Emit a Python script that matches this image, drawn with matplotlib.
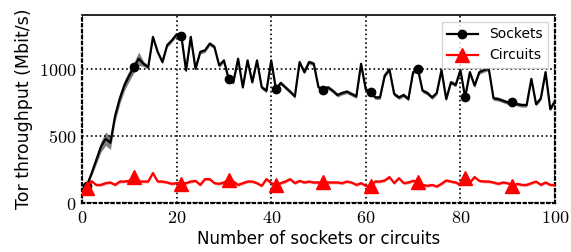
import matplotlib
matplotlib.use("Agg")
import matplotlib.pyplot as plt
import numpy as np

plt.rcParams['mathtext.fontset'] = 'cm'
plt.rcParams['font.family'] = ['DejaVu Sans']

x_vals = list(range(1, 101))

sockets = [130, 220, 320, 420, 480, 450, 650, 780, 880, 950,
           1012, 1075, 1037, 1012, 1237, 1125, 1050, 1175, 1212, 1255,
           1245, 987, 1237, 1000, 1125, 1137, 1187, 1162, 1025, 1062,
           925, 900, 1075, 862, 1062, 900, 1062, 862, 837, 1062,
           850, 895, 862, 830, 795, 1050, 975, 1050, 1037, 862,
           845, 862, 837, 805, 820, 830, 812, 795, 1037, 845,
           830, 787, 787, 950, 995, 812, 787, 805, 775, 975,
           1000, 837, 820, 787, 820, 990, 775, 900, 880, 990,
           787, 975, 875, 975, 990, 1000, 780, 775, 762, 750,
           755, 737, 730, 730, 925, 737, 780, 975, 700, 762]

sockets_spread = [10, 20, 30, 40, 50, 50, 40, 40, 40, 40,
                  40, 50, 20, 15, 15, 15, 15, 15, 15, 15,
                  20, 15, 15, 15, 15, 15, 15, 15, 15, 15,
                  15, 15, 15, 15, 15, 15, 15, 15, 15, 15,
                  15, 15, 15, 15, 15, 15, 15, 15, 15, 15,
                  15, 15, 15, 15, 15, 15, 15, 15, 15, 15,
                  15, 15, 15, 15, 15, 15, 15, 15, 15, 15,
                  15, 15, 15, 15, 15, 15, 15, 15, 15, 15,
                  15, 15, 15, 15, 15, 15, 15, 15, 15, 15,
                  15, 15, 15, 15, 15, 15, 15, 15, 15, 15]

circuits = [110, 165, 137, 137, 150, 155, 137, 162, 162, 167,
            195, 162, 162, 162, 225, 162, 162, 155, 145, 150,
            145, 150, 162, 167, 137, 180, 180, 150, 145, 155,
            175, 162, 137, 150, 162, 162, 150, 130, 180, 150,
            137, 150, 162, 180, 150, 167, 155, 162, 155, 155,
            155, 155, 155, 155, 150, 162, 155, 137, 150, 130,
            130, 162, 162, 170, 195, 150, 187, 150, 155, 167,
            162, 137, 130, 137, 125, 145, 170, 162, 155, 137,
            187, 155, 195, 167, 162, 162, 155, 145, 155, 150,
            125, 145, 137, 137, 150, 162, 137, 155, 137, 137]

circuits_spread = [10] * 100

x_ticks = [0, 20, 40, 60, 80, 100]
y_ticks = [0, 500, 1000]

fig = plt.figure(figsize=(5.71, 2.52), dpi=100)
ax = fig.add_axes([0.1436, 0.1933, 0.972 - 0.1436, 0.9405 - 0.1933])

xs = np.array(x_vals)
s = np.array(sockets)
ss = np.array(sockets_spread)
c = np.array(circuits)
cs = np.array(circuits_spread)

ax.fill_between(xs, s - ss, s + ss, color='#808080', lw=0, zorder=2)
ax.plot(xs, s, color='black', lw=1.6, marker='o', markersize=6,
        markevery=10, label='Sockets', zorder=3)
ax.fill_between(xs, c - cs, c + cs, color='#f08080', lw=0, zorder=2)
ax.plot(xs, c, color='red', lw=1.6, marker='^', markersize=10,
        markevery=10, label='Circuits', zorder=4)

ax.set_xlim(0, 100)
ax.set_ylim(0, 1400)
ax.set_xticks(x_ticks)
ax.set_xticklabels([r'$%d$' % v for v in x_ticks], fontsize=13)
ax.set_yticks(y_ticks)
ax.set_yticklabels([r'$%d$' % v for v in y_ticks], fontsize=13)
ax.tick_params(direction='in', length=0, pad=4)

ax.grid(True, color='black', linestyle=':', linewidth=1.2)
ax.set_axisbelow(False)
for side in ['left', 'right', 'bottom']:
    ax.spines[side].set_linestyle(':')
    ax.spines[side].set_linewidth(1.6)
ax.spines['top'].set_linewidth(1.2)

ax.set_xlabel('Number of sockets or circuits', fontsize=12, labelpad=2)
ax.set_ylabel('Tor throughput (Mbit/s)', fontsize=12.5, labelpad=4)

leg = ax.legend(loc='upper right', fontsize=10, framealpha=0.8,
                fancybox=False, edgecolor='#cccccc', handlelength=2.2,
                borderpad=0.4, labelspacing=0.5)
leg.set_zorder(10)

fig.savefig('out.png', dpi=100)
